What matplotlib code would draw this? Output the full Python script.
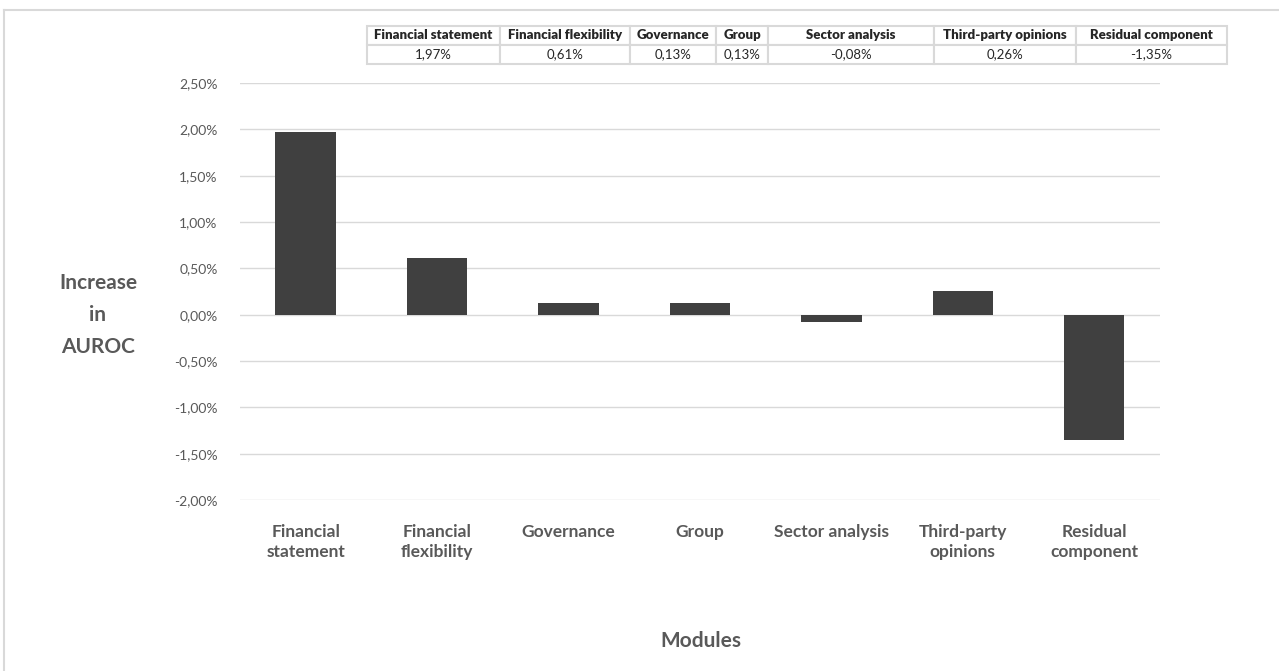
import matplotlib.pyplot as plt
from matplotlib.ticker import FuncFormatter, MultipleLocator
from matplotlib.lines import Line2D

plt.rcParams['font.family'] = ['Lato', 'DejaVu Sans']

# contribution of each module to AUROC
modules = ['Financial statement', 'Financial flexibility', 'Governance', 'Group',
           'Sector analysis', 'Third-party opinions', 'Residual component']
tick_labels = ['Financial\nstatement', 'Financial\nflexibility', 'Governance', 'Group',
               'Sector analysis', 'Third-party\nopinions', 'Residual\ncomponent']
increase = [0.0197, 0.0061, 0.0013, 0.0013, -0.0008, 0.0026, -0.0135]

def pct(v, pos=None):
    return ('%.2f%%' % (v * 100)).replace('.', ',')

fig = plt.figure(figsize=(12.79, 6.71), dpi=100)
ax = fig.add_axes([0.1876, 0.2548, 0.7193, 0.6215])

x = range(len(modules))
ax.bar(x, increase, width=0.46, color='#404040', zorder=3)
ax.set_xlim(-0.5, len(modules) - 0.5)
ax.set_ylim(-0.02, 0.025)
ax.yaxis.set_major_locator(MultipleLocator(0.005))
ax.yaxis.set_major_formatter(FuncFormatter(pct))
ax.grid(axis='y', color='#d9d9d9', linewidth=1, zorder=0)
for s in ax.spines.values():
    s.set_visible(False)
ax.tick_params(axis='both', length=0)
ax.tick_params(axis='y', labelsize=10, labelcolor='#595959', pad=16)
ax.set_xticks(list(x))
ax.set_xticklabels(tick_labels, fontsize=12.5, fontweight='bold', color='#595959',
                   linespacing=1.35)
ax.tick_params(axis='x', pad=17)

fig.text(0.0766, 0.53, 'Increase\nin\nAUROC', ha='center', va='center',
         fontsize=15, fontweight='bold', color='#595959', linespacing=1.75)
fig.text(0.548, 0.045, 'Modules', ha='center', va='center',
         fontsize=15, fontweight='bold', color='#595959')

# data table above the plot
col_w = [133, 130, 86, 52, 166, 142, 151]
tot = sum(col_w)
tab = ax.table(cellText=[modules, [pct(v) for v in increase]],
               colWidths=[w / tot for w in col_w],
               cellLoc='center',
               bbox=[0.287, 0.9046, 0.6723, 0.0567],
               transform=fig.transFigure)
tab.auto_set_font_size(False)
for (r, c), cell in tab.get_celld().items():
    cell.set_edgecolor('#d9d9d9')
    cell.set_linewidth(1.5)
    cell.get_text().set_fontsize(9.5)
    cell.get_text().set_color('#262626')
    if r == 0:
        cell.get_text().set_fontweight('heavy')
tab.set_clip_on(False)

# chart frame
fig.add_artist(Line2D([0.003, 1.0], [0.985, 0.985], color='#d9d9d9', linewidth=1.5))
fig.add_artist(Line2D([0.003, 0.003], [0.0, 0.985], color='#d9d9d9', linewidth=1.5))

fig.savefig('out.png', dpi=100)
